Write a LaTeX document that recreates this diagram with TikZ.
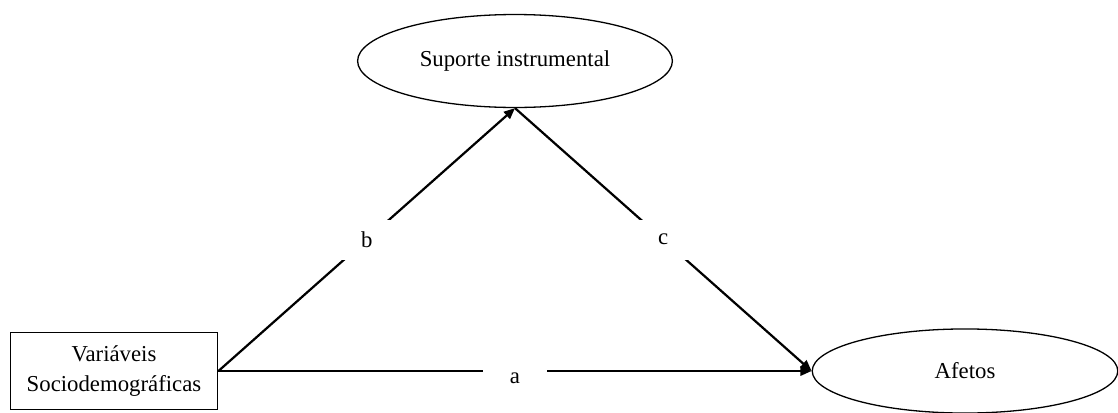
\documentclass[tikz,border=0pt]{standalone}
\usepackage{fontspec}
\setmainfont{Liberation Serif}
\usetikzlibrary{arrows.meta,positioning,shapes.geometric}
\tikzset{
  varbox/.style={draw=black,line width=0.8pt,minimum width=112pt,minimum height=41.6pt,align=center,inner sep=0pt,font=\fontsize{12.3}{16}\selectfont},
  latent/.style={draw=black,ellipse,line width=0.7pt,inner sep=0pt,font=\fontsize{12.3}{16}\selectfont},
  effect/.style={-{Triangle[length=6pt,width=5pt]},draw=black,line width=1.2pt},
  coef/.style={fill=white,minimum width=35pt,minimum height=21.6pt,inner sep=0pt,font=\fontsize{12.3}{16}\selectfont}
}

\begin{document}
\begin{tikzpicture}[x=0.54pt,y=0.54pt]
  \useasboundingbox (0,0) rectangle (1118,412);
  \node[varbox] (soc) at (114,41) {Variáveis\\Sociodemográficas};
  \node[latent,minimum width=170pt,minimum height=50.2pt] (sup) at (515,351) {Suporte instrumental};
  \node[latent,minimum width=165pt,minimum height=45.4pt] (afe) at (965,41) {Afetos};
  % paths
  \draw[effect] (soc.east) -- node[coef] {b} (sup.south);
  \draw[effect] (sup.south) -- node[coef] {c} (afe.west);
  \draw[effect] (soc.east) -- node[coef,yshift=-4pt] {a} (afe.west);
\end{tikzpicture}
\end{document}
